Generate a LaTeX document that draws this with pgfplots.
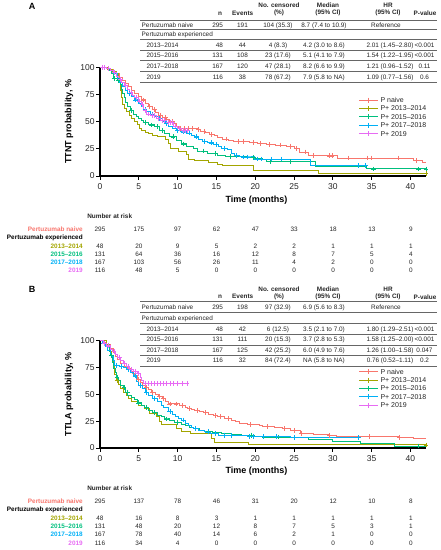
\documentclass[border=0pt]{standalone}
\usepackage{pgfplots}
\pgfplotsset{compat=1.18}
\usepackage{pgfplotstable}
\usepackage{fontspec}
\setmainfont{Liberation Sans}
\definecolor{cR}{HTML}{F8766D}
\definecolor{cO}{HTML}{A3A500}
\definecolor{cG}{HTML}{00BF7D}
\definecolor{cB}{HTML}{00B0F6}
\definecolor{cP}{HTML}{E76BF3}
\newcommand\tf{\fontsize{6.4}{7}\selectfont}

% ---------------- Panel A data (x, survival %, censored flag) ----------------
\pgfplotstableread{
x y c
0 100 0
0.8 99 0
1.3 98 0
1.7 96 0
2.1 94 0
2.5 91 0
2.9 88 0
3.3 85 0
3.7 82 0
4.1 79 0
4.5 76 0
4.9 73 0
5.3 70 0
5.6 70 1
5.8 67 0
6.2 64 0
6.4 64 1
6.7 61 0
7.0 61 1
7.2 58 0
7.6 56 0
7.8 56 1
8.1 54 0
8.4 54 1
8.6 52 0
9.0 50 0
9.3 50 1
9.5 48 0
9.8 46 0
10.1 44 0
10.3 44 1
10.7 43.5 0
10.9 43.5 1
11.4 43.5 1
11.9 43.5 1
12.5 42.5 0
12.7 42.5 1
13.0 41 0
13.4 41 1
13.6 40 0
14.1 38.5 0
14.4 38.5 1
14.7 37 0
15.2 35.5 0
15.8 34 0
16.3 34 1
16.6 33 0
17.2 32 0
17.8 32 1
18.5 32 1
19.2 31 0
19.8 31 1
20.3 30 0
20.6 30 1
21.5 29 0
21.8 29 1
22.6 28.5 0
23.2 28.5 1
24.0 27.5 0
24.5 27.5 1
25.1 25 0
25.3 25 1
25.7 22 0
26.5 22 1
26.9 19 0
27.5 19 1
29.5 18.5 0
29.6 18.5 1
29.9 18.5 1
30.6 16.5 0
32.0 16.5 1
34.5 16.5 1
35.0 16.5 1
38.5 16.5 1
40.4 14 0
40.8 14 1
41.6 12 0
42 12 0
}\tAr
\pgfplotstableread{
x y c
0 100 0
1.0 98 0
1.6 96 0
2.1 94 0
2.4 90 0
2.6 85 0
2.7 79 0
2.8 72 0
2.9 66 0
3.1 62 0
3.4 59 0
3.8 56 0
4.1 53 0
4.4 50 0
4.8 47 0
5.1 44 0
5.4 42 0
5.8 40 0
6.2 39 0
6.8 37.5 0
7.4 36 0
8.5 34 0
8.8 29.5 0
9.1 25 0
10.1 23 0
11.2 20 0
11.4 15.5 0
12.2 14 0
14.0 12.5 0
15.1 11 0
15.8 9.5 0
19.8 5 0
28.1 2.3 0
42 2.3 1
}\tAo
\pgfplotstableread{
x y c
0 100 0
0.8 99 0
1.2 97 0
1.5 94 0
1.7 90 0
1.8 90 1
2.2 88 0
2.4 88 1
2.6 84 0
2.8 80 0
2.9 76 0
3.1 72 0
3.3 68 0
3.6 64 0
3.9 60 0
4.0 60 1
4.3 57 0
4.7 55 0
5.0 53 0
5.3 51 0
5.6 49 0
5.8 49 1
6.2 47 0
6.6 47 1
7.0 45.5 0
7.4 45.5 1
7.7 42 0
8.0 42 1
8.3 39 0
9.0 36 0
9.4 36 1
9.8 33 0
10.5 29.5 0
10.8 29.5 1
11.1 27 0
12.0 25 0
12.6 23 0
13.3 23 1
13.9 21 0
14.8 21 1
15.2 19 0
16.2 18 0
16.8 18 1
19.0 17 0
19.7 17 1
20.0 16 0
21.0 15 0
21.5 13.5 0
22.0 13.5 1
24.5 13.5 1
27.7 9 0
34.3 6.5 0
35.2 6.5 1
41.0 6.5 1
42 6.5 1
}\tAg
\pgfplotstableread{
x y c
0 100 0
0.9 99 0
1.4 97 0
1.8 94 0
2.2 90 0
2.5 86 0
2.9 82 0
3.3 79 0
3.6 76 0
3.8 76 1
4.0 73 0
4.4 70 0
4.6 70 1
4.9 67 0
5.3 64 0
5.6 61 0
5.8 61 1
6.0 59 0
6.5 57 0
6.7 57 1
7.0 55 0
7.5 53 0
7.7 53 1
8.0 50 0
8.4 48 0
8.6 48 1
8.8 46 0
9.3 44 0
9.8 42 0
10.0 42 1
10.4 40.5 0
10.7 40.5 1
11.1 39.5 0
11.5 39.5 1
11.8 37.5 0
12.2 36 0
12.4 36 1
12.7 34 0
13.2 32 0
13.5 32 1
13.9 30.5 0
14.3 30.5 1
14.6 29 0
15.0 29 1
15.3 27 0
15.7 25 0
16.0 25 1
16.4 24 0
16.9 21 0
17.3 19 0
17.6 19 1
18.0 17.5 0
18.5 17.5 1
19.0 17.5 1
19.9 15.6 0
20.3 15.6 1
20.8 15.6 1
22.1 15.6 1
23.4 15.6 1
27.1 9.5 0
33.3 9.5 1
34.2 9.5 1
}\tAb
\pgfplotstableread{
x y c
0 100 0
0.3 100 1
0.6 100 1
0.9 99 0
1.1 99 1
1.4 97 0
1.7 95 0
1.9 95 1
2.1 92 0
2.4 89 0
2.6 89 1
2.8 86 0
3.1 83 0
3.3 83 1
3.5 80 0
3.8 77 0
4.0 77 1
4.2 74 0
4.5 72 0
4.7 72 1
4.9 69 0
5.1 69 1
5.3 66 0
5.4 66 1
5.6 60 0
5.8 60 1
6.0 57 0
6.2 57 1
6.5 55.5 0
6.7 55.5 1
7.0 55.5 1
7.3 53 0
7.5 53 1
7.8 51 0
8.0 51 1
8.3 51 1
8.6 49 0
8.8 49 1
9.0 49 1
9.3 49 1
9.5 46 0
9.7 46 1
10.0 44 0
10.2 44 1
10.5 42 0
10.7 42 1
11.0 42 1
11.3 42 1
}\tAp

% ---------------- Panel B data ----------------
\pgfplotstableread{
x y c
0 100 0
0.5 98 0
0.9 96 0
1.3 93 0
1.7 89 0
2.0 85 0
2.3 82 0
2.7 79 0
3.1 76 0
3.5 74 0
3.9 71 0
4.2 69 0
4.5 67 0
4.8 64 0
5.0 64 1
5.2 61 0
5.5 58 0
5.8 56 0
6.0 56 1
6.2 54 0
6.6 52 0
6.8 52 1
7.1 50 0
7.5 48 0
7.7 48 1
8.0 46 0
8.2 46 1
8.4 43 0
8.8 41 0
9.0 41 1
9.8 41 1
10.2 39.5 0
10.6 39.5 1
11.0 38 0
11.3 37 0
11.5 37 1
11.8 36 0
12.2 35 0
12.5 35 1
12.8 34 0
13.3 33 0
13.6 33 1
14.0 31 0
14.6 30 0
14.9 30 1
15.2 29 0
15.5 29 1
16.0 27.5 0
16.5 27.5 1
17.0 26 0
17.5 25 0
18.0 23 0
19.0 22 0
19.4 22 1
20.5 21 0
21.0 20 0
21.5 20 1
22.5 19 0
23.5 18 0
23.7 18 1
24.6 16 0
25.0 16 1
25.8 13.5 0
26.0 13.5 1
27.5 12.5 0
29.5 11.5 0
29.6 11.5 1
30.5 10.5 0
34.7 10.5 1
38.5 10 0
38.6 10 1
40.4 8.5 0
42 8.5 0
}\tBr
\pgfplotstableread{
x y c
0 100 0
0.8 96 0
1.2 90 0
1.5 84 0
1.7 76 0
1.9 68 0
2.1 63 0
2.2 63 1
2.4 59 0
2.7 55 0
3.0 52 0
3.4 49 0
3.7 46 0
4.0 43 0
4.9 40 0
5.7 37 0
6.4 32.5 0
7.3 29.5 0
7.7 24.8 0
7.9 21.7 0
9.8 18 0
10.5 15.5 0
11.6 13.5 0
14.4 9 0
14.8 5.5 0
19.1 2.8 0
42 2.8 1
}\tBo
\pgfplotstableread{
x y c
0 100 0
0.5 97 0
0.9 94 0
1.2 90 0
1.4 86 0
1.5 86 1
1.6 80 0
1.8 74 0
2.0 70 0
2.1 66 0
2.2 66 1
2.4 63 0
2.7 58 0
3.0 56 0
3.1 56 1
3.3 52 0
3.5 52 1
3.6 49 0
4.0 47 0
4.4 45 0
4.8 42 0
5.0 42 1
5.3 40 0
5.7 38 0
6.0 38 1
6.3 35 0
6.8 33 0
7.0 33 1
7.4 30.5 0
7.9 29 0
8.3 27 0
8.6 27 1
9.0 25.5 0
9.6 24 0
10.0 24 1
10.5 22 0
11.0 21 0
11.5 19 0
12.0 18 0
12.3 18 1
12.8 16.5 0
13.5 15.5 0
14.0 15.5 1
14.5 14.5 0
15.6 13.5 0
17.0 12.5 0
18.2 12 0
19.5 12 1
19.9 11 0
21.0 10.2 0
23.0 10.2 1
26.9 7.5 0
30.0 6.5 0
33.5 4.5 0
38.0 1.8 0
41.0 1.8 1
42 1.8 0
}\tBg
\pgfplotstableread{
x y c
0 100 0
0.3 97 0
0.5 97 1
0.7 94 0
1.0 91 0
1.3 88 0
1.5 85 0
1.7 81 0
1.9 77 0
2.1 77 1
2.5 76 0
2.7 76 1
3.0 75 0
3.4 73 0
3.6 73 1
3.9 70 0
4.3 67 0
4.5 67 1
4.7 62 0
5.0 58 0
5.2 58 1
5.5 55 0
5.8 52 0
6.0 52 1
6.3 49 0
6.8 46 0
7.0 46 1
7.4 43 0
7.9 40 0
8.2 38 0
8.8 34 0
9.0 34 1
9.3 31 0
9.7 29 0
10.1 27 0
10.5 26 0
10.7 26 1
11.0 23 0
11.4 21 0
11.8 19 0
12.1 18 0
12.3 18 1
12.7 16.5 0
13.5 15 0
13.9 15 1
14.3 13.5 0
14.8 13.5 1
15.3 12 0
16.0 12 1
16.5 11.5 0
16.9 11.5 1
19.0 11 0
19.3 11 1
19.7 11 1
20.2 10.5 0
21.0 10.5 1
22.7 10.5 1
24.5 9.5 0
25.0 9.5 1
33.3 9.5 1
}\tBb
\pgfplotstableread{
x y c
0 100 0
0.4 97 0
0.6 97 1
0.9 95 0
1.1 95 1
1.3 92 0
1.6 90 0
1.8 90 1
2.0 87 0
2.3 84 0
2.5 84 1
2.7 81 0
3.0 79 0
3.2 79 1
3.4 76 0
3.6 76 1
3.8 73 0
4.0 73 1
4.3 71 0
4.5 71 1
4.8 69 0
5.0 69 1
5.2 66 0
5.4 63 0
5.6 60 0
5.8 60 1
6.2 60 1
6.6 60 1
7.0 60 1
7.4 60 1
7.8 60 1
8.2 60 1
8.6 60 1
9.0 60 1
9.5 60 1
10.0 60 1
10.6 60 1
11.2 60 1
}\tBp

\pgfplotsset{
  km/.style={scale only axis, width=326pt,
    xmin=0, xmax=42, ymin=0, ymax=100,
    axis x line*=bottom, axis y line*=left,
    xtick={0,5,...,40}, ytick={0,25,50,75,100},
    tick align=outside, major tick length=3.5pt,
    tick style={black, line width=0.9pt},
    axis line style={black, line width=1.2pt},
    ticklabel style={font=\fontsize{8.5}{9}\selectfont, text=black!85, inner sep=2pt},
    xticklabel style={yshift=-2.5pt},
    /pgf/number format/assume math mode=true,
    xlabel={Time (months)},
    xlabel style={font=\bfseries\fontsize{9}{10}\selectfont, at={(axis description cs:0.48,-0.22)}, anchor=center},
    ylabel style={font=\bfseries\fontsize{9}{10}\selectfont, at={(axis description cs:-0.095,0.5)}, anchor=center},
    clip=false,
  },
  kmline/.style={const plot, line width=1pt, color=#1},
  kmmark/.style={only marks, mark=+, mark size=2.4pt, color=#1, mark options={line width=0.7pt}, restrict expr to domain={\thisrow{c}}{0.5:1.5}},
}

% legend key: #1 centre y, #2 colour, #3 text
\newcommand\lkey[3]{%
  \draw[#2, line width=1pt] (359pt,-#1pt) -- (378pt,-#1pt);
  \draw[#2, line width=0.8pt] (368.5pt,-#1pt+2.5pt) -- (368.5pt,-#1pt-2.5pt);
  \node[anchor=west, font=\fontsize{7}{8}\selectfont, text=black!85] at (380.5pt,-#1pt) {#3};
}
% table row: #1 baseline y, #2 label, #3 n, #4 events, #5 censored, #6 median, #7 HR, #8 p
\newcommand\trow[8]{%
  \node[anchor=base west] at (146.5pt,-#1pt) {#2};
  \node[anchor=base east] at (223pt,-#1pt) {#3};
  \node[anchor=base] at (242.5pt,-#1pt) {#4};
  \node[anchor=base] at (278pt,-#1pt) {#5};
  \node[anchor=base] at (324pt,-#1pt) {#6};
  \node[anchor=base] at (390pt,-#1pt) {#7};
  \node[anchor=base] at (424.5pt,-#1pt) {#8};
}
\newcommand\risk[2]{% #1 centre y, #2 list of 9 values
  \foreach \v [count=\i from 0] in {#2} {\node[anchor=center] at (100pt+\i*38.85pt,-#1pt) {\v};}
}

\begin{document}
\begin{tikzpicture}[every node/.style={inner sep=0pt, outer sep=0pt}]
\path[use as bounding box] (0,0) rectangle (440pt,-550pt);

% ================= PANEL A =================
\node[font=\bfseries\fontsize{9}{10}\selectfont] at (32pt,-6pt) {A};
\begin{scope}[font=\tf, text=black!85]
  \begin{scope}[font=\bfseries\tf]
    \node at (279pt,-5.3pt) {No. censored};
    \node at (328pt,-5.3pt) {Median};
    \node at (388pt,-5.3pt) {HR};
    \node at (220pt,-13.3pt) {n};
    \node at (242.7pt,-13.3pt) {Events};
    \node at (279pt,-13.3pt) {(\%)};
    \node at (328pt,-13.3pt) {(95\% CI)};
    \node at (388pt,-13.3pt) {(95\% CI)};
    \node at (425pt,-13.3pt) {P-value};
  \end{scope}
  \foreach \yy in {20,29.5,39.8,50.2,60.8,71.4,82.2} {\draw[black!60, line width=0.8pt] (140pt,-\yy pt) -- (437pt,-\yy pt);}
  \node[anchor=base west] at (141.7pt,-27pt) {Pertuzumab naive};
  \node[anchor=base east] at (223pt,-27pt) {295};
  \node[anchor=base] at (242.5pt,-27pt) {191};
  \node[anchor=base] at (278pt,-27pt) {104 (35.3)};
  \node[anchor=base] at (324pt,-27pt) {8.7 (7.4 to 10.9)};
  \node[anchor=base] at (386pt,-27pt) {Reference};
  \node[anchor=base west] at (141.7pt,-36.9pt) {Pertuzumab experienced};
  \trow{47.3}{2013–2014}{48}{44}{4 (8.3)}{4.2 (3.0 to 8.6)}{2.01 (1.45–2.80)}{<0.001}
  \trow{57.8}{2015–2016}{131}{108}{23 (17.6)}{5.1 (4.1 to 7.9)}{1.54 (1.22–1.95)}{<0.001}
  \trow{68.4}{2017–2018}{167}{120}{47 (28.1)}{8.2 (6.6 to 9.9)}{1.21 (0.96–1.52)}{0.11}
  \trow{79.1}{2019}{116}{38}{78 (67.2)}{7.9 (5.8 to NA)}{1.09 (0.77–1.56)}{0.6}
\end{scope}

\begin{axis}[km, at={(100pt,-176pt)}, anchor=south west, height=108.7pt,
  ylabel={TTNT probability, \%}]
  \addplot[kmline=cR] table[x=x,y=y] {\tAr};
  \addplot[kmmark=cR] table[x=x,y=y] {\tAr};
  \addplot[kmline=cO] table[x=x,y=y] {\tAo};
  \addplot[kmmark=cO] table[x=x,y=y] {\tAo};
  \addplot[kmline=cG] table[x=x,y=y] {\tAg};
  \addplot[kmmark=cG] table[x=x,y=y] {\tAg};
  \addplot[kmline=cB] table[x=x,y=y] {\tAb};
  \addplot[kmmark=cB] table[x=x,y=y] {\tAb};
  \addplot[kmline=cP] table[x=x,y=y] {\tAp};
  \addplot[kmmark=cP] table[x=x,y=y] {\tAp};
\end{axis}
\lkey{100}{cR}{P naive}
\lkey{108.4}{cO}{P+ 2013–2014}
\lkey{116.8}{cG}{P+ 2015–2016}
\lkey{125.2}{cB}{P+ 2017–2018}
\lkey{133.6}{cP}{P+ 2019}

\begin{scope}[font=\tf, text=black!85]
  \node[anchor=west, font=\bfseries\tf] at (87.3pt,-216pt) {Number at risk};
  \node[anchor=east, font=\bfseries\tf, text=cR] at (82.7pt,-229pt) {Pertuzumab naive};
  \node[anchor=east, font=\bfseries\tf, text=black] at (82.7pt,-237.7pt) {Pertuzumab experienced};
  \node[anchor=east, font=\bfseries\tf, text=cO] at (82.7pt,-246pt) {2013–2014};
  \node[anchor=east, font=\bfseries\tf, text=cG] at (82.7pt,-254.3pt) {2015–2016};
  \node[anchor=east, font=\bfseries\tf, text=cB] at (82.7pt,-262.3pt) {2017–2018};
  \node[anchor=east, font=\bfseries\tf, text=cP] at (82.7pt,-270.7pt) {2019};
  \risk{229}{295,175,97,62,47,33,18,13,9}
  \risk{246}{48,20,9,5,2,2,1,1,1}
  \risk{254.3}{131,64,36,16,12,8,7,5,4}
  \risk{262.3}{167,103,56,26,11,4,2,0,0}
  \risk{270.7}{116,48,5,0,0,0,0,0,0}
\end{scope}

% ================= PANEL B =================
\node[font=\bfseries\fontsize{9}{10}\selectfont] at (32pt,-289.5pt) {B};
\begin{scope}[font=\tf, text=black!85, yshift=-283.5pt]
  \begin{scope}[font=\bfseries\tf]
    \node at (279pt,-5.3pt) {No. censored};
    \node at (328pt,-5.3pt) {Median};
    \node at (388pt,-5.3pt) {HR};
    \node at (220pt,-13.3pt) {n};
    \node at (242.7pt,-13.3pt) {Events};
    \node at (279pt,-13.3pt) {(\%)};
    \node at (328pt,-13.3pt) {(95\% CI)};
    \node at (388pt,-13.3pt) {(95\% CI)};
    \node at (425pt,-13.3pt) {P-value};
  \end{scope}
  \foreach \yy in {18.2,28.8,40.2,50.8,61.5,71.8,82.5} {\draw[black!60, line width=0.8pt] (140pt,-\yy pt) -- (437pt,-\yy pt);}
  \node[anchor=base west] at (141.7pt,-25.8pt) {Pertuzumab naive};
  \node[anchor=base east] at (223pt,-25.8pt) {295};
  \node[anchor=base] at (242.5pt,-25.8pt) {198};
  \node[anchor=base] at (278pt,-25.8pt) {97 (32.9)};
  \node[anchor=base] at (324pt,-25.8pt) {6.9 (5.6 to 8.3)};
  \node[anchor=base] at (386pt,-25.8pt) {Reference};
  \node[anchor=base west] at (141.7pt,-36.8pt) {Pertuzumab experienced};
  \trow{47.8}{2013–2014}{48}{42}{6 (12.5)}{3.5 (2.1 to 7.0)}{1.80 (1.29–2.51)}{<0.001}
  \trow{58.4}{2015–2016}{131}{111}{20 (15.3)}{3.7 (2.8 to 5.3)}{1.58 (1.25–2.00)}{<0.001}
  \trow{68.9}{2017–2018}{167}{125}{42 (25.2)}{6.0 (4.9 to 7.6)}{1.26 (1.00–1.58)}{0.047}
  \trow{79.4}{2019}{116}{32}{84 (72.4)}{NA (5.8 to NA)}{0.76 (0.52–1.11)}{0.2}
\end{scope}

\begin{axis}[km, at={(100pt,-448pt)}, anchor=south west, height=107.5pt,
  ylabel={TTLA probability, \%}]
  \addplot[kmline=cR] table[x=x,y=y] {\tBr};
  \addplot[kmmark=cR] table[x=x,y=y] {\tBr};
  \addplot[kmline=cO] table[x=x,y=y] {\tBo};
  \addplot[kmmark=cO] table[x=x,y=y] {\tBo};
  \addplot[kmline=cG] table[x=x,y=y] {\tBg};
  \addplot[kmmark=cG] table[x=x,y=y] {\tBg};
  \addplot[kmline=cB] table[x=x,y=y] {\tBb};
  \addplot[kmmark=cB] table[x=x,y=y] {\tBb};
  \addplot[kmline=cP] table[x=x,y=y] {\tBp};
  \addplot[kmmark=cP] table[x=x,y=y] {\tBp};
\end{axis}
\lkey{371.7}{cR}{P naive}
\lkey{380.1}{cO}{P+ 2013–2014}
\lkey{388.5}{cG}{P+ 2015–2016}
\lkey{396.9}{cB}{P+ 2017–2018}
\lkey{405.3}{cP}{P+ 2019}

\begin{scope}[font=\tf, text=black!85]
  \node[anchor=west, font=\bfseries\tf] at (87.3pt,-488.3pt) {Number at risk};
  \node[anchor=east, font=\bfseries\tf, text=cR] at (82.7pt,-501.7pt) {Pertuzumab naive};
  \node[anchor=east, font=\bfseries\tf, text=black] at (82.7pt,-510pt) {Pertuzumab experienced};
  \node[anchor=east, font=\bfseries\tf, text=cO] at (82.7pt,-518.3pt) {2013–2014};
  \node[anchor=east, font=\bfseries\tf, text=cG] at (82.7pt,-526.7pt) {2015–2016};
  \node[anchor=east, font=\bfseries\tf, text=cB] at (82.7pt,-534.7pt) {2017–2018};
  \node[anchor=east, font=\bfseries\tf, text=cP] at (82.7pt,-543pt) {2019};
  \risk{501.7}{295,137,78,46,31,20,12,10,8}
  \risk{518.3}{48,16,8,3,1,1,1,1,1}
  \risk{526.7}{131,48,20,12,8,7,5,3,1}
  \risk{534.7}{167,78,40,14,6,2,1,0,0}
  \risk{543}{116,34,4,0,0,0,0,0,0}
\end{scope}
\end{tikzpicture}
\end{document}
